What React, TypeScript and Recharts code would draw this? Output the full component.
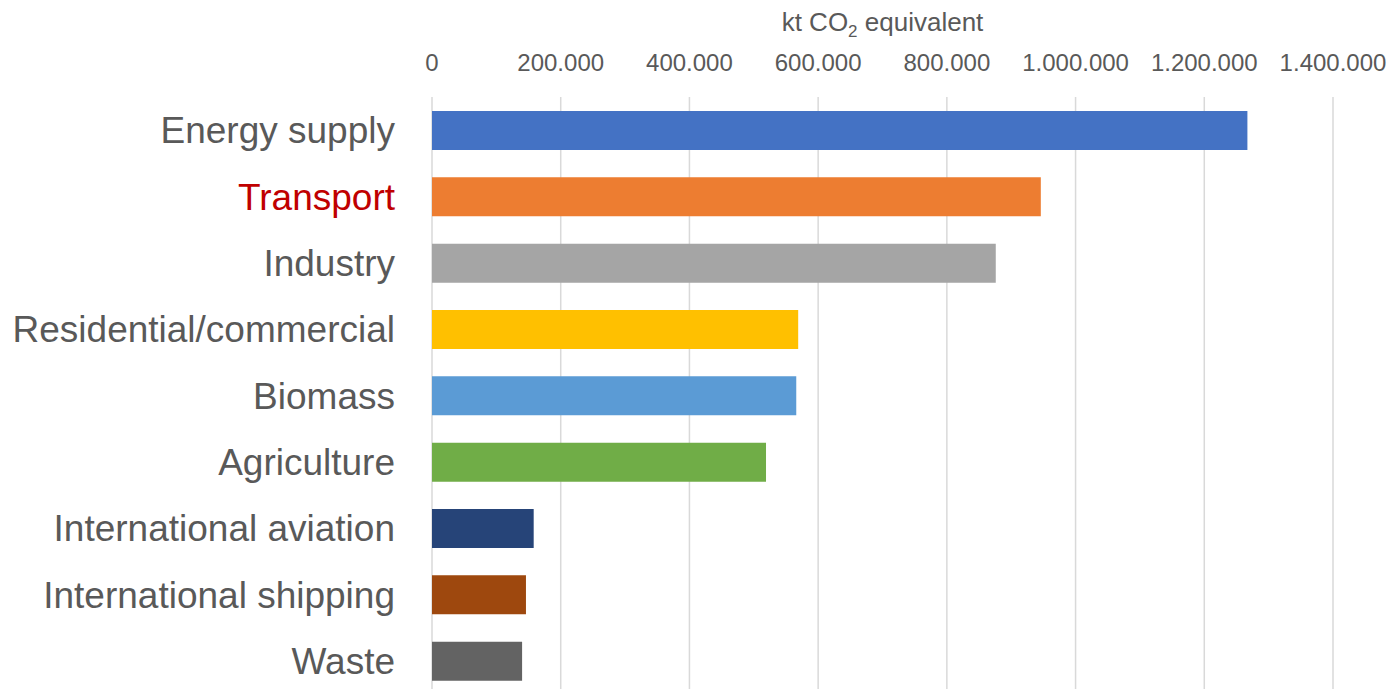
import React from 'react';
import { BarChart, Bar, XAxis, YAxis, CartesianGrid, Cell } from 'recharts';

const categories = [
  'Energy supply',
  'Transport',
  'Industry',
  'Residential/commercial',
  'Biomass',
  'Agriculture',
  'International aviation',
  'International shipping',
  'Waste',
];
const emissions = [1267000, 946000, 876000, 569000, 566000, 519000, 158000, 146000, 140000];
const barColors = ['#4472C4', '#ED7D31', '#A5A5A5', '#FFC000', '#5B9BD5', '#70AD47', '#264478', '#9E480E', '#636363'];
const xTicks = [0, 200000, 400000, 600000, 800000, 1000000, 1200000, 1400000];

const data = categories.map((name, i) => ({ name, value: emissions[i] }));

const FONT = '"Liberation Sans", Arial, sans-serif';

// thousands separated with dots, like the original
const fmt = (v: number) => String(v).replace(/\B(?=(\d{3})+(?!\d))/g, '.');

const CategoryTick = (props: any) => {
  const { x, y, payload } = props;
  const red = payload.value === 'Transport';
  return (
    <text
      x={x}
      y={y}
      dy={13}
      textAnchor="end"
      fontFamily={FONT}
      fontSize={37}
      fill={red ? '#C00000' : '#595959'}
    >
      {payload.value}
    </text>
  );
};

const AxisTitle = (props: any) => {
  const { viewBox } = props;
  const cx = viewBox.x + viewBox.width / 2;
  return (
    <text x={cx} y={31} textAnchor="middle" fontFamily={FONT} fontSize={26} fill="#595959">
      kt CO
      <tspan fontSize={17} dy={6}>2</tspan>
      <tspan dy={-6}> equivalent</tspan>
    </text>
  );
};

export default function App() {
  return (
    <div
      style={{
        position: 'absolute',
        left: 0,
        top: 0,
        width: 1388,
        height: 689,
        overflow: 'hidden',
        background: '#fff',
      }}
    >
      <BarChart
        width={1388}
        height={694}
        data={data}
        layout="vertical"
        margin={{ top: 0, right: 55, bottom: 0, left: 0 }}
      >
        <CartesianGrid horizontal={false} stroke="#D9D9D9" strokeWidth={1.5} />
        <XAxis
          type="number"
          orientation="top"
          domain={[0, 1400000]}
          ticks={xTicks}
          tickFormatter={fmt}
          axisLine={false}
          tickLine={false}
          tickSize={0}
          tickMargin={26}
          height={97}
          interval={0}
          tick={{ fill: '#595959', fontSize: 24, fontFamily: FONT }}
          label={<AxisTitle />}
        />
        <YAxis
          type="category"
          dataKey="name"
          width={432}
          axisLine={false}
          tickLine={false}
          tickSize={0}
          tickMargin={37}
          interval={0}
          tick={<CategoryTick />}
        />
        <Bar dataKey="value" barSize={39} isAnimationActive={false}>
          {data.map((d, i) => (
            <Cell key={d.name} fill={barColors[i]} />
          ))}
        </Bar>
      </BarChart>
    </div>
  );
}
